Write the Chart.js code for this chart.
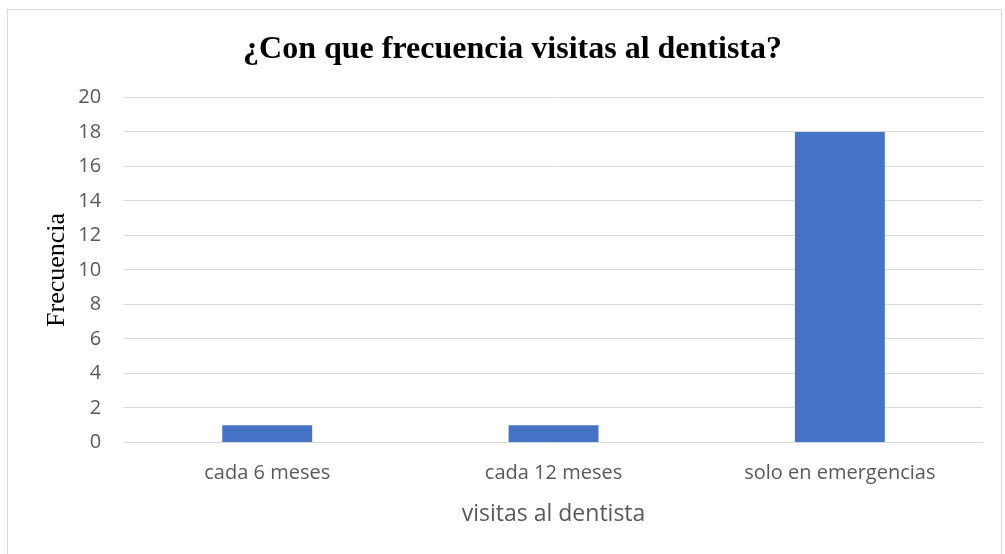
<!DOCTYPE html>
<html>
<head>
<meta charset="utf-8">
<script src="https://cdn.jsdelivr.net/npm/chart.js@4/dist/chart.umd.min.js"></script>
<style>
  html, body { margin: 0; padding: 0; background: #fff; overflow: hidden; }
  #frame { position: absolute; left: 7px; top: 9px; width: 993px; height: 560px; border: 1px solid #d9d9d9; }
  #wrap { position: absolute; left: 0; top: 0; width: 991px; height: 544px; }
</style>
</head>
<body>
<div id="frame"><div id="wrap"><canvas id="chart"></canvas></div></div>
<script>
const categories = ['cada 6 meses', 'cada 12 meses', 'solo en emergencias'];
const frecuencia = [1, 1, 18];
const chartTitle = '¿Con que frecuencia visitas al dentista?';
const xTitle = 'visitas al dentista';
const yTitle = 'Frecuencia';

const sans = "'Open Sans', 'Liberation Sans', sans-serif";
const serif = "'Liberation Serif', 'DejaVu Serif', serif";

new Chart(document.getElementById('chart'), {
  type: 'bar',
  data: {
    labels: categories,
    datasets: [{
      label: yTitle,
      data: frecuencia,
      backgroundColor: '#4472C4',
      categoryPercentage: 1,
      barPercentage: 0.314,
    }],
  },
  options: {
    responsive: true,
    maintainAspectRatio: false,
    animation: false,
    layout: { padding: { left: 34, right: 16, top: 0, bottom: 26 } },
    plugins: {
      legend: { display: false },
      tooltip: { enabled: false },
      title: {
        display: true,
        text: chartTitle,
        color: '#000',
        font: { family: serif, size: 32, weight: 'bold' },
        padding: { top: 21, bottom: 28 },
      },
    },
    scales: {
      x: {
        grid: { display: false, drawTicks: false },
        border: { display: false },
        ticks: { color: '#595959', font: { family: sans, size: 20 }, padding: 19 },
        title: {
          display: true,
          text: xTitle,
          color: '#595959',
          font: { family: sans, size: 23 },
          padding: { top: -4, bottom: 0 },
        },
      },
      y: {
        min: 0,
        max: 20,
        ticks: { stepSize: 2, color: '#595959', font: { family: sans, size: 20 }, padding: 23 },
        grid: { color: '#d9d9d9', lineWidth: 1, drawTicks: false },
        border: { display: false },
        title: {
          display: true,
          text: yTitle,
          color: '#000',
          font: { family: serif, size: 26 },
          padding: { top: 0, bottom: -18 },
        },
      },
    },
  },
});
</script>
</body>
</html>
